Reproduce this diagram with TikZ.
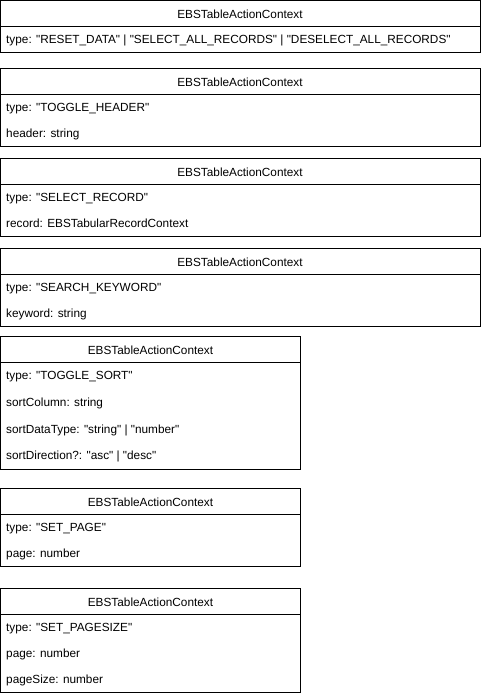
\documentclass[tikz,border=0pt]{standalone}
\usepackage{fontspec}
\setmainfont{Liberation Sans}[Ligatures=TeXOff]

\begin{document}
\begin{tikzpicture}[x=1pt,y=-1pt,
    frame/.style={line width=1pt},
    ctxtitle/.style={anchor=base,inner sep=0pt,font=\fontsize{11.8}{14}\selectfont},
    ctxfield/.style={anchor=base west,inner sep=0pt,font=\fontsize{11.8}{14}\selectfont}
]
    \useasboundingbox (0,0) rectangle (481,696);
    % reset / select all
    \draw[frame] (0.5,0.5) rectangle (480,52) (0.5,26) -- (480,26);
    \node[ctxtitle] (resetTitle) at (240,18.3) {EBSTableActionContext};
    \node[ctxfield] (resetType) at (6,43.3) {type: "RESET\_DATA" | "SELECT\_ALL\_RECORDS" | "DESELECT\_ALL\_RECORDS"};
    % toggle header
    \draw[frame] (0.5,68) rectangle (480,146) (0.5,94) -- (480,94);
    \node[ctxtitle] (headerTitle) at (240,86.3) {EBSTableActionContext};
    \node[ctxfield] (headerType) at (6,111.3) {type: "TOGGLE\_HEADER"};
    \node[ctxfield] (headerName) at (6,137.3) {header: string};
    % select record
    \draw[frame] (0.5,158) rectangle (480,236) (0.5,184) -- (480,184);
    \node[ctxtitle] (recordTitle) at (240,176.3) {EBSTableActionContext};
    \node[ctxfield] (recordType) at (6,201.3) {type: "SELECT\_RECORD"};
    \node[ctxfield] (recordCtx) at (6,227.3) {record: EBSTabularRecordContext};
    % search keyword
    \draw[frame] (0.5,248) rectangle (480,326) (0.5,274) -- (480,274);
    \node[ctxtitle] (searchTitle) at (240,266.3) {EBSTableActionContext};
    \node[ctxfield] (searchType) at (6,291.3) {type: "SEARCH\_KEYWORD"};
    \node[ctxfield] (searchWord) at (6,317.3) {keyword: string};
    % toggle sort
    \draw[frame] (0.5,336) rectangle (300.5,469) (0.5,362) -- (300.5,362);
    \node[ctxtitle] (sortTitle) at (150.5,354.3) {EBSTableActionContext};
    \node[ctxfield] (sortType) at (6,379.7) {type: "TOGGLE\_SORT"};
    \node[ctxfield] (sortColumn) at (6,406.4) {sortColumn: string};
    \node[ctxfield] (sortData) at (6,433.2) {sortDataType: "string" | "number"};
    \node[ctxfield] (sortDir) at (6,459.9) {sortDirection?: "asc" | "desc"};
    % set page
    \draw[frame] (0.5,488) rectangle (300.5,566) (0.5,514) -- (300.5,514);
    \node[ctxtitle] (pageTitle) at (150.5,506.3) {EBSTableActionContext};
    \node[ctxfield] (pageType) at (6,531.3) {type: "SET\_PAGE"};
    \node[ctxfield] (pageNum) at (6,557.3) {page: number};
    % set page size
    \draw[frame] (0.5,588) rectangle (300.5,692) (0.5,614) -- (300.5,614);
    \node[ctxtitle] (sizeTitle) at (150.5,606.3) {EBSTableActionContext};
    \node[ctxfield] (sizeType) at (6,631.3) {type: "SET\_PAGESIZE"};
    \node[ctxfield] (sizePage) at (6,657.3) {page: number};
    \node[ctxfield] (sizeNum) at (6,683.3) {pageSize: number};
\end{tikzpicture}
\end{document}
